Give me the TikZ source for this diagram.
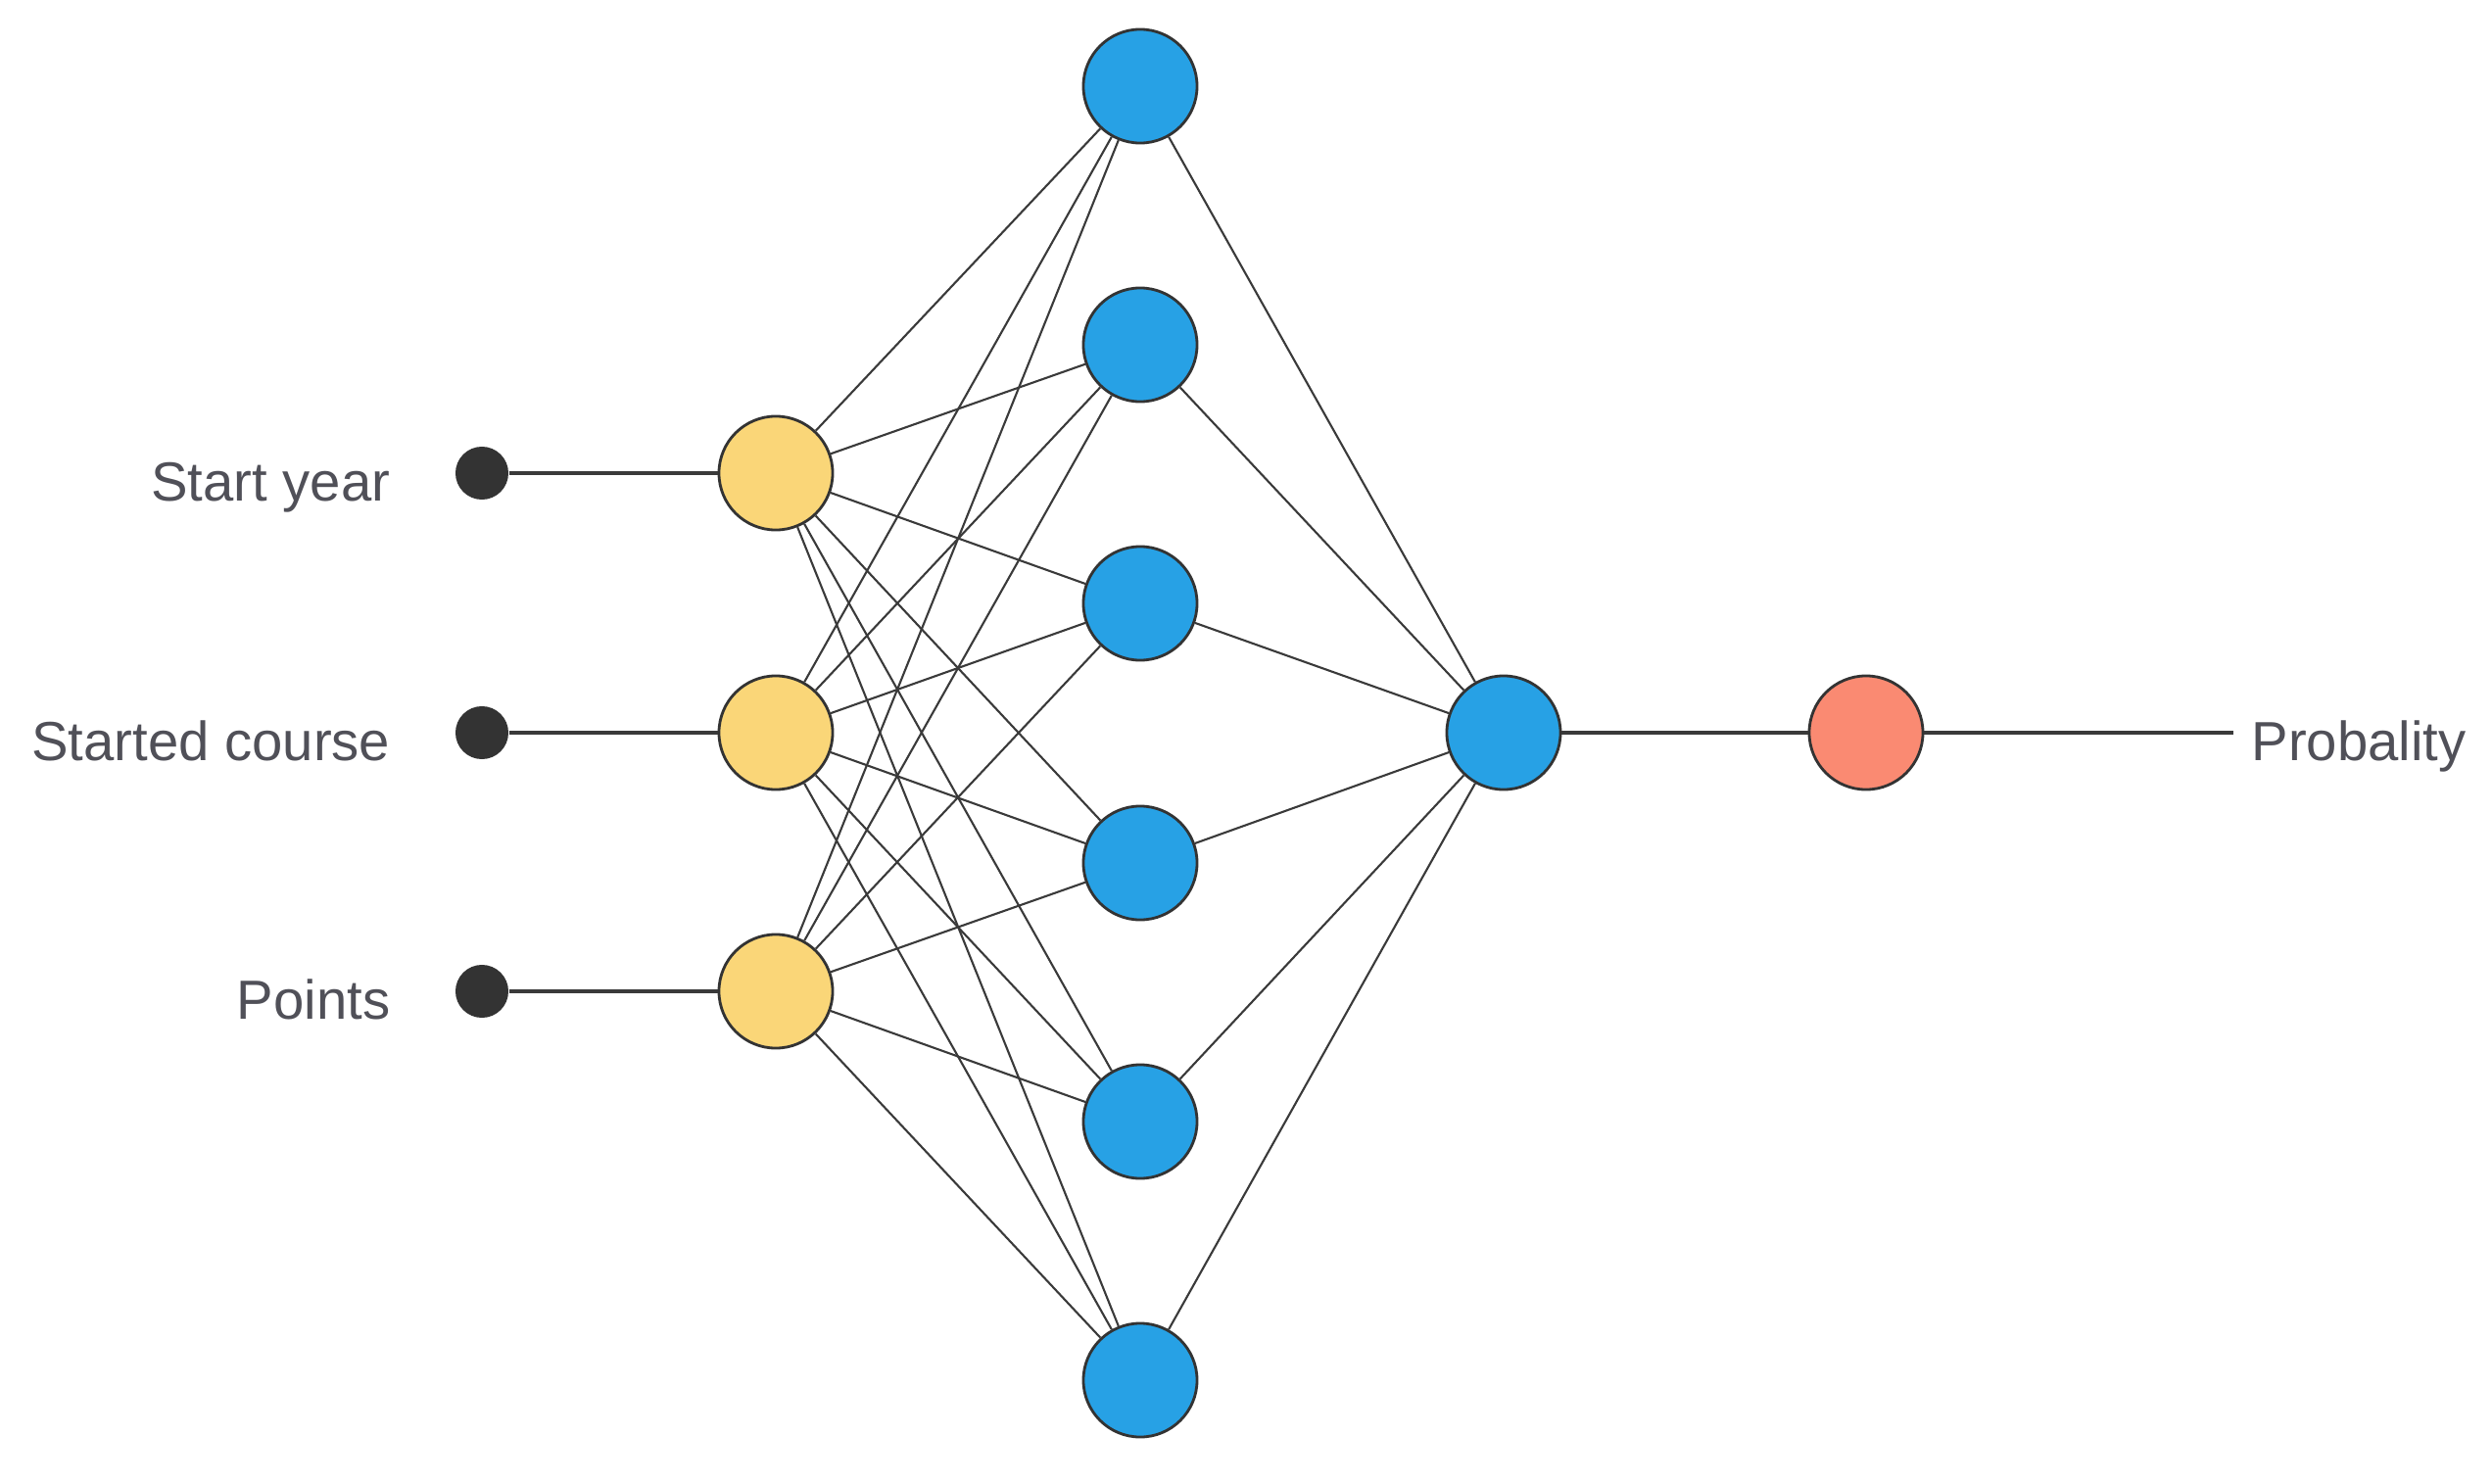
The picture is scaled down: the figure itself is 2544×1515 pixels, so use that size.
\documentclass[tikz,border=0pt]{standalone}
\usepackage{fontspec}
\setmainfont{Liberation Sans}
\definecolor{dotc}{HTML}{333333}
\definecolor{edgec}{HTML}{3A3A3A}
\definecolor{inc}{HTML}{FAD678}
\definecolor{hidc}{HTML}{27A1E5}
\definecolor{outc}{HTML}{FA8A72}
\definecolor{txtc}{HTML}{505058}
\begin{document}
\begin{tikzpicture}[x=0.01cm,y=-0.01cm,
  dotnode/.style={circle,fill=dotc,draw=none,minimum size=0.54cm,inner sep=0pt},
  neuron/.style={circle,draw=dotc,line width=0.8pt,minimum size=1.16cm,inner sep=0pt},
  innode/.style={neuron,fill=inc},
  hidnode/.style={neuron,fill=hidc},
  outnode/.style={neuron,fill=outc},
  lbl/.style={text=txtc,font=\fontsize{16}{19}\selectfont,inner sep=0pt},
  wire/.style={draw=edgec,line width=0.6pt},
  iowire/.style={draw=edgec,line width=1.1pt}]
\useasboundingbox (0,0) rectangle (2544,1515);
% input dots and labels
\foreach \i/\y/\t in {1/483/Start year,2/748/Started course,3/1012/Points}{
  \node[dotnode] (d\i) at (492,\y) {};
  \node[innode] (a\i) at (792,\y) {};
  \node[lbl,anchor=base east] (l\i) at (399,\y+28) {\t};
}
% hidden layer
\foreach \j/\y in {1/88,2/352,3/616,4/881,5/1145,6/1409}{
  \node[hidnode] (h\j) at (1164,\y) {};
}
\node[hidnode] (s) at (1535,748) {};
\node[outnode] (r) at (1905,748) {};
\coordinate (o) at (2280,748);
\node[lbl,anchor=base west] (pl) at (2298,776) {Probality};
% connectors
\foreach \i in {1,2,3}{
  \draw[iowire] (d\i) -- (a\i);
  \foreach \j in {1,...,6}{
    \draw[wire] (a\i) -- (h\j);
  }
}
\foreach \j in {1,...,6}{
  \draw[wire] (h\j) -- (s);
}
\draw[iowire] (s) -- (r);
\draw[iowire] (r) -- (o);
\end{tikzpicture}
\end{document}
